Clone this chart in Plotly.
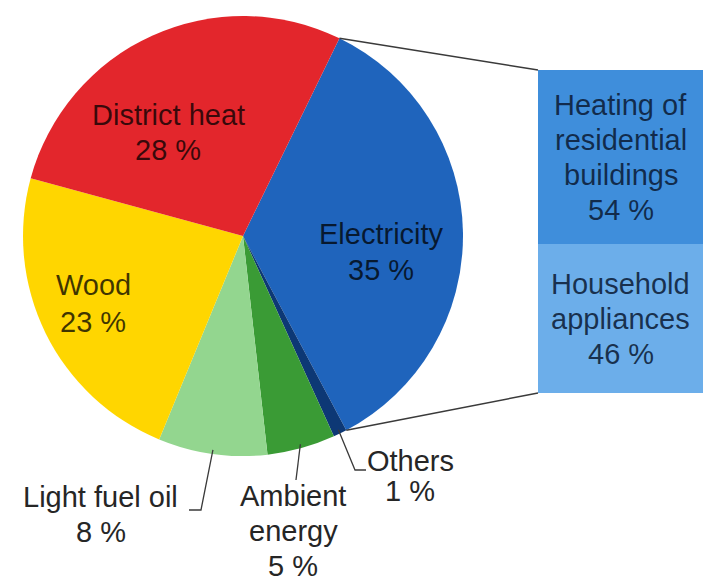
import math
import plotly.graph_objects as go

# Final energy consumption by source (%), clockwise from the electricity slice
sources = ["Electricity", "Others", "Ambient energy", "Light fuel oil", "Wood", "District heat"]
shares = [35, 1, 5, 8, 23, 28]

# Breakdown of the electricity share (%)
electricity_uses = ["Heating of residential buildings", "Household appliances"]
electricity_use_shares = [54, 46]

# How each label is broken into lines
label_lines = {
    "Electricity": ["Electricity"],
    "Others": ["Others"],
    "Ambient energy": ["Ambient", "energy"],
    "Light fuel oil": ["Light fuel oil"],
    "Wood": ["Wood"],
    "District heat": ["District heat"],
    "Heating of residential buildings": ["Heating of", "residential", "buildings"],
    "Household appliances": ["Household", "appliances"],
}

# ---- styling / layout ----
W, H = 703, 584
CX, CY, R = 243, 236, 220          # pie centre and radius in pixels
ROTATION = 26                      # start angle of the first slice (deg, clockwise from 12 o'clock)
FONT = "Liberation Sans, Arial, sans-serif"
FS = 29

slice_colors = ["#1F64BC", "#0D3875", "#3A9B35", "#93D68F", "#FFD600", "#E3262C"]
bar_colors = {"Heating of residential buildings": "#3F8EDB",
              "Household appliances": "#6CAEEA"}

BAR_LEFT, BAR_TOP, BAR_BOTTOM = 538, 70, 393

# pixel -> paper helpers
def px(x):
    return x / W

def py(y):
    return 1 - y / H

def edge_point(angle_deg, radius=R):
    a = math.radians(angle_deg)
    return CX + radius * math.sin(a), CY - radius * math.cos(a)

# cumulative slice angles
total = sum(shares)
starts, ends = [], []
acc = ROTATION
for v in shares:
    starts.append(acc)
    acc += 360 * v / total
    ends.append(acc)
mids = {s: (a + b) / 2 for s, a, b in zip(sources, starts, ends)}

fig = go.Figure()

fig.add_trace(go.Pie(
    labels=sources, values=shares, sort=False, direction="clockwise",
    rotation=ROTATION,
    marker=dict(colors=slice_colors, line=dict(width=0)),
    textinfo="none", showlegend=False,
    domain=dict(x=[px(CX - R), px(CX + R)], y=[py(CY + R), py(CY - R)]),
))

# stacked bar: first item on top, so add in reverse
for use, val in reversed(list(zip(electricity_uses, electricity_use_shares))):
    fig.add_trace(go.Bar(
        x=["Electricity"], y=[val], width=1,
        marker=dict(color=bar_colors[use], line=dict(width=0)),
        showlegend=False, xaxis="x", yaxis="y",
    ))


def text_block(lines, x, y, xref, yref, spacing, color, size=FS):
    n = len(lines)
    for i, line in enumerate(lines):
        fig.add_annotation(
            x=x, y=y, xref=xref, yref=yref, text=line, showarrow=False,
            xanchor="center", yanchor="middle",
            yshift=((n - 1) / 2 - i) * spacing,
            font=dict(family=FONT, size=size, color=color),
        )


# pie labels (block centres in pixels)
label_pos = {
    "District heat": (168, 132, 35),
    "Electricity": (381, 252, 35),
    "Wood": (93, 303, 37),
    "Light fuel oil": (101, 514, 35),
    "Ambient energy": (293, 531, 35),
    "Others": (410, 476, 30),
}
inside = {"District heat", "Electricity", "Wood"}
for s, v in zip(sources, shares):
    x, y, sp = label_pos[s]
    col = "rgba(0,0,0,0.75)" if s in inside else "#262626"
    text_block(label_lines[s] + [f"{v} %"], px(x), py(y), "paper", "paper", sp, col)

# bar labels, centred in each stacked segment
top = 100
for use, val in zip(electricity_uses, electricity_use_shares):
    centre = top - val / 2
    top -= val
    text_block(label_lines[use] + [f"{val} %"], 0, centre, "x", "y", 35, "rgba(10,25,50,0.85)")

# connectors from the electricity slice to the bar
line_style = dict(color="#3a3a3a", width=1.5)
e = sources.index("Electricity")
x0, y0 = edge_point(starts[e])
x1, y1 = edge_point(ends[e])
fig.add_shape(type="line", xref="paper", yref="paper",
              x0=px(x0), y0=py(y0), x1=px(BAR_LEFT), y1=py(BAR_TOP), line=line_style)
fig.add_shape(type="line", xref="paper", yref="paper",
              x0=px(x1), y0=py(y1), x1=px(BAR_LEFT), y1=py(BAR_BOTTOM), line=line_style)

# leader lines for the labels outside the pie
leader_ends = {
    "Light fuel oil": [(201, 510), (189, 510)],
    "Ambient energy": [(296, 480)],
    "Others": [(355, 470), (366, 470)],
}
for s, pts in leader_ends.items():
    sx, sy = edge_point(mids[s], R - 4)
    path = f"M {px(sx)},{py(sy)} " + " ".join(f"L {px(a)},{py(b)}" for a, b in pts)
    fig.add_shape(type="path", xref="paper", yref="paper", path=path,
                  line=dict(color="#3a3a3a", width=1.3))

fig.update_layout(
    width=W, height=H, margin=dict(l=0, r=0, t=0, b=0),
    paper_bgcolor="white", plot_bgcolor="white",
    barmode="stack", bargap=0,
    xaxis=dict(domain=[px(BAR_LEFT), 1], range=[-0.5, 0.5], visible=False,
               fixedrange=True),
    yaxis=dict(domain=[py(BAR_BOTTOM), py(BAR_TOP)], range=[0, 100], visible=False,
               fixedrange=True),
)

fig.write_html("out.html")
